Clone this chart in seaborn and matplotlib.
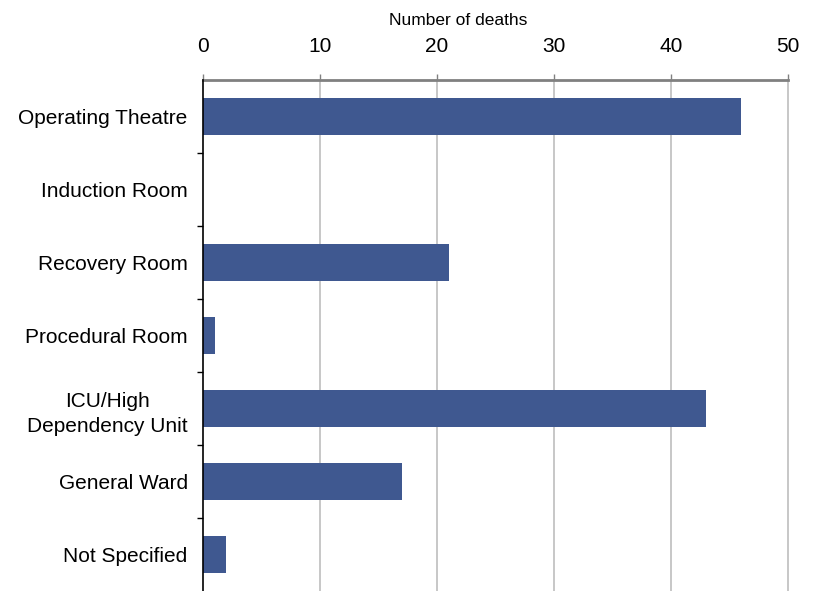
import pandas as pd
import matplotlib.pyplot as plt
import seaborn as sns

# DATA
locations = ['Operating Theatre', 'Induction Room', 'Recovery Room', 'Procedural Room',
             'ICU/High\nDependency Unit', 'General Ward', 'Not Specified']
deaths = [46, 0, 21, 1, 43, 17, 2]
x_ticks = [0, 10, 20, 30, 40, 50]

df = pd.DataFrame({'location': locations, 'deaths': deaths})

sns.set_style('white')
plt.rcParams['font.family'] = ['Liberation Sans', 'DejaVu Sans']
plt.rcParams['text.color'] = 'black'
plt.rcParams['axes.labelcolor'] = 'black'
plt.rcParams['xtick.color'] = 'black'
plt.rcParams['ytick.color'] = 'black'

fig = plt.figure(figsize=(8.14, 5.91), dpi=100)
ax = fig.add_axes([203 / 814, 0.0, 585 / 814, 511 / 591])

sns.barplot(data=df, x='deaths', y='location', color='#3F5890', saturation=1,
            width=0.5, linewidth=0, ax=ax, zorder=3)

ax.set_xlim(0, 50)
ax.set_ylim(len(locations) - 0.5, -0.5)
ax.set_xticks(x_ticks)
ax.xaxis.tick_top()
ax.xaxis.set_label_position('top')
ax.set_xlabel('Number of deaths', fontsize=12.5, va='bottom')
ax.xaxis.set_label_coords(0.437, 1.101)
ax.set_ylabel('')
ax.tick_params(axis='x', direction='out', length=4.5, width=1, colors='#808080',
               labelcolor='black', labelsize=15, pad=13)
ax.tick_params(axis='y', which='major', length=0, labelsize=15, pad=11)
for lab in ax.get_yticklabels():
    lab.set_multialignment('center')
    lab.set_linespacing(1.45)

# grid lines
for v in x_ticks[1:]:
    ax.axvline(v, color='#BDBDBD', lw=1.2, zorder=1, clip_on=False)

# category boundary ticks on the left axis
ax.set_yticks(range(len(locations)))
ax.set_yticks([i + 0.5 for i in range(len(locations) - 1)], minor=True)
ax.tick_params(axis='y', which='minor', left=True, direction='out', length=4.5, width=1,
               color='black')

for s in ['right', 'bottom']:
    ax.spines[s].set_visible(False)
ax.spines['top'].set_color('#808080')
ax.spines['top'].set_linewidth(2)
ax.spines['left'].set_color('black')
ax.spines['left'].set_linewidth(1.2)
ax.spines['left'].set_zorder(4)

plt.savefig('out.png', dpi=100)
plt.close()
